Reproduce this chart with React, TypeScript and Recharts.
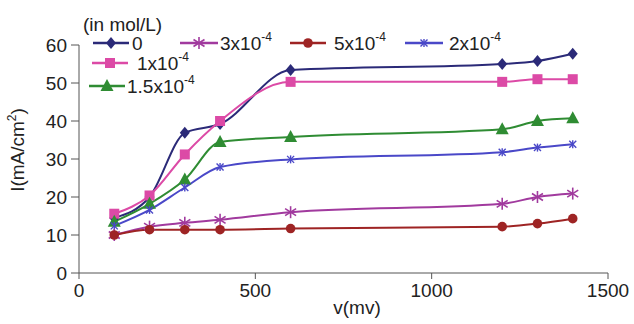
import React from 'react';
import { LineChart, Line, XAxis, YAxis } from 'recharts';

const voltages = [100, 200, 300, 400, 600, 1200, 1300, 1400];
const conc0 = [14.5, 20, 36.9, 39.2, 53.4, 55, 55.8, 57.7];
const conc1 = [15.6, 20.4, 31.2, 40, 50.3, 50.3, 51, 51];
const conc15 = [13.5, 18.2, 24.6, 34.5, 35.8, 37.8, 40, 40.7];
const conc2 = [12.4, 16.6, 22.5, 27.9, 29.9, 31.8, 33, 33.9];
const conc3 = [10, 12.2, 13.2, 14, 16, 18.2, 20, 20.9];
const conc5 = [10, 11.4, 11.4, 11.4, 11.7, 12.2, 13, 14.3];

const xTicks = [0, 500, 1000, 1500];
const yTicks = [0, 10, 20, 30, 40, 50, 60];

type Shape = 'diamond' | 'square' | 'triangle' | 'circle' | 'star' | 'cross';

const seriesDefs: { key: string; base: string; exp: string; color: string; shape: Shape }[] = [
  { key: 'c0', base: '0', exp: '', color: '#2b2a78', shape: 'diamond' },
  { key: 'c1', base: '1x10', exp: '-4', color: '#dc4aa6', shape: 'square' },
  { key: 'c15', base: '1.5x10', exp: '-4', color: '#2f8c33', shape: 'triangle' },
  { key: 'c2', base: '2x10', exp: '-4', color: '#4a48c8', shape: 'cross' },
  { key: 'c3', base: '3x10', exp: '-4', color: '#a13a9e', shape: 'star' },
  { key: 'c5', base: '5x10', exp: '-4', color: '#9e2424', shape: 'circle' },
];

const seriesValues: Record<string, number[]> = {
  c0: conc0,
  c1: conc1,
  c15: conc15,
  c2: conc2,
  c3: conc3,
  c5: conc5,
};

const data = voltages.map((v, i) => {
  const row: Record<string, number> = { v };
  for (const s of seriesDefs) row[s.key] = seriesValues[s.key][i];
  return row;
});

function Marker({ cx, cy, shape, color }: { cx: number; cy: number; shape: Shape; color: string }) {
  switch (shape) {
    case 'diamond':
      return <polygon points={`${cx},${cy - 6} ${cx + 5},${cy} ${cx},${cy + 6} ${cx - 5},${cy}`} fill={color} />;
    case 'square':
      return <rect x={cx - 5} y={cy - 5} width={10} height={10} fill={color} />;
    case 'triangle':
      return <polygon points={`${cx},${cy - 7} ${cx + 6.5},${cy + 5} ${cx - 6.5},${cy + 5}`} fill={color} />;
    case 'circle':
      return <circle cx={cx} cy={cy} r={4.8} fill={color} />;
    case 'star':
      return (
        <g stroke={color} strokeWidth={1.6}>
          <line x1={cx} y1={cy - 6} x2={cx} y2={cy + 6} />
          <line x1={cx - 5.5} y1={cy - 3.5} x2={cx + 5.5} y2={cy + 3.5} />
          <line x1={cx - 5.5} y1={cy + 3.5} x2={cx + 5.5} y2={cy - 3.5} />
        </g>
      );
    case 'cross':
    default:
      return (
        <g stroke={color} strokeWidth={1.4}>
          <line x1={cx - 3.5} y1={cy - 3.5} x2={cx + 3.5} y2={cy + 3.5} />
          <line x1={cx - 3.5} y1={cy + 3.5} x2={cx + 3.5} y2={cy - 3.5} />
          <line x1={cx} y1={cy - 4} x2={cx} y2={cy + 4} />
        </g>
      );
  }
}

const FONT = '"Liberation Sans", Arial, sans-serif';

const legendItems: { key: string; x1: number; x2: number; tx: number; y: number }[] = [
  { key: 'c0', x1: 93, x2: 129, tx: 132, y: 43 },
  { key: 'c3', x1: 180, x2: 218, tx: 220, y: 43 },
  { key: 'c5', x1: 290, x2: 326, tx: 334, y: 43 },
  { key: 'c2', x1: 405, x2: 443, tx: 449, y: 43 },
  { key: 'c1', x1: 92, x2: 128, tx: 137, y: 63 },
  { key: 'c15', x1: 89, x2: 125, tx: 127, y: 86 },
];

function YLabel() {
  return (
    <text
      x={24}
      y={150}
      transform="rotate(-90 24 150)"
      textAnchor="middle"
      fontSize={19}
      fontFamily={FONT}
      fill="#222"
    >
      I(mA/cm<tspan fontSize={12} dy={-8}>2</tspan>
      <tspan dy={8}>)</tspan>
    </text>
  );
}

function XLabel() {
  return (
    <text x={357} y={314} textAnchor="middle" fontSize={19} fontFamily={FONT} fill="#222">
      v(mv)
    </text>
  );
}

export default function App() {
  return (
    <div style={{ position: 'absolute', left: 0, top: 0, width: 634, height: 324, background: '#fff' }}>
      <LineChart
        width={634}
        height={324}
        data={data}
        margin={{ top: 45, right: 26, bottom: 0, left: 0 }}
      >
        <XAxis
          type="number"
          dataKey="v"
          domain={[0, 1500]}
          ticks={xTicks}
          height={51}
          tickSize={6}
          tickMargin={5}
          stroke="#555"
          tick={{ fill: '#222', fontSize: 19, fontFamily: FONT }}
          label={<XLabel />}
        />
        <YAxis
          type="number"
          domain={[0, 60]}
          ticks={yTicks}
          width={79}
          tickSize={8}
          tickMargin={4}
          stroke="#555"
          tick={{ fill: '#222', fontSize: 19, fontFamily: FONT }}
          label={<YLabel />}
        />
        {seriesDefs.map((s) => (
          <Line
            key={s.key}
            type="monotone"
            dataKey={s.key}
            stroke={s.color}
            strokeWidth={2}
            isAnimationActive={false}
            dot={(p: any) => (
              <Marker key={`${s.key}-${p.index}`} cx={p.cx} cy={p.cy} shape={s.shape} color={s.color} />
            )}
          />
        ))}
      </LineChart>
      <svg width={634} height={110} style={{ position: 'absolute', left: 0, top: 0, pointerEvents: 'none' }}>
        <text x={83} y={31} fontSize={19} fontFamily={FONT} fill="#222">(in mol/L)</text>
        {legendItems.map((it) => {
          const s = seriesDefs.find((d) => d.key === it.key)!;
          const mid = (it.x1 + it.x2) / 2;
          return (
            <g key={it.key}>
              <line x1={it.x1} y1={it.y} x2={it.x2} y2={it.y} stroke={s.color} strokeWidth={2.5} />
              <Marker cx={mid} cy={it.y} shape={s.shape} color={s.color} />
              <text x={it.tx} y={it.y + 7} fontSize={19} fontFamily={FONT} fill="#222">
                {s.base}
                {s.exp ? <tspan fontSize={12} dy={-9}>{s.exp}</tspan> : null}
              </text>
            </g>
          );
        })}
      </svg>
    </div>
  );
}
